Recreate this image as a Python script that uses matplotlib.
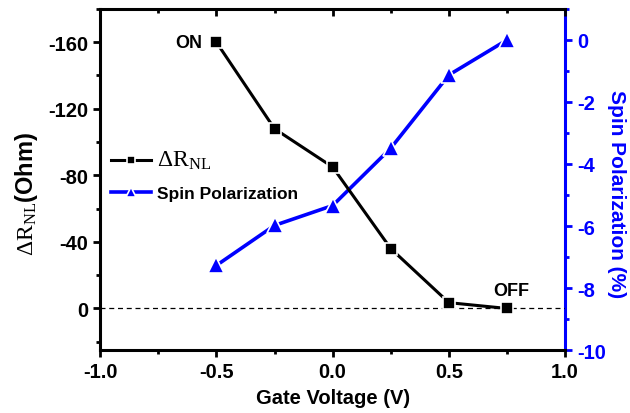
import matplotlib
matplotlib.use('Agg')
import matplotlib.pyplot as plt
from matplotlib.ticker import MultipleLocator

# data
gate_voltage = [-0.5, -0.25, 0.0, 0.25, 0.5, 0.75]
delta_r_nl = [-160, -108, -85, -36, -3.5, 0]
spin_pol = [-7.27, -5.98, -5.34, -3.49, -1.13, 0.0]

plt.rcParams['font.family'] = 'Liberation Sans'
plt.rcParams['font.weight'] = 'bold'
plt.rcParams['mathtext.fontset'] = 'custom'
plt.rcParams['mathtext.rm'] = 'Liberation Serif:weight=normal'
plt.rcParams['mathtext.it'] = 'Liberation Serif:italic:weight=normal'
plt.rcParams['mathtext.bf'] = 'Liberation Sans:bold'
plt.rcParams['mathtext.default'] = 'rm'

blue = '#0000ff'

fig = plt.figure(figsize=(6.3, 4.14), dpi=100)
ax = fig.add_axes([0.159, 0.152, 0.738, 0.824])
ax2 = ax.twinx()

# left axis: delta R_NL (inverted)
l1, = ax.plot(gate_voltage, delta_r_nl, color='black', lw=2.2, marker='s',
              markersize=9, markeredgecolor='white', markeredgewidth=1.2,
              markerfacecolor='black', zorder=3)
ax.axhline(0, color='black', lw=0.9, ls=(0, (4, 3)), zorder=1)
ax.set_xlim(-1.0, 1.0)
ax.set_ylim(25, -180)

# right axis: spin polarization
l2, = ax2.plot(gate_voltage, spin_pol, color=blue, lw=2.6, marker='^',
               markersize=11, markeredgecolor='white', markeredgewidth=1.2,
               markerfacecolor=blue, zorder=3)
ax2.set_ylim(-10, 1)

# ticks
ax.xaxis.set_minor_locator(MultipleLocator(0.25))
ax.set_xticks([-1.0, -0.5, 0.0, 0.5, 1.0])
ax.set_xticklabels(['-1.0', '-0.5', '0.0', '0.5', '1.0'])
ax.yaxis.set_minor_locator(MultipleLocator(20))
ax.set_yticks([-160, -120, -80, -40, 0])
ax.set_yticklabels(['-160', '-120', '-80', '-40', '0'])
ax2.yaxis.set_minor_locator(MultipleLocator(1))
ax2.set_yticks([0, -2, -4, -6, -8, -10])
ax2.set_yticklabels(['0', '-2', '-4', '-6', '-8', '-10'])

ax.tick_params(axis='both', which='major', direction='out', length=5, width=2,
               labelsize=14.5)
ax.tick_params(axis='both', which='minor', direction='out', length=3, width=2)
ax.tick_params(axis='x', which='both', top=True, labeltop=False)
# top ticks point inward
for t in ax.xaxis.get_major_ticks() + ax.xaxis.get_minor_ticks():
    t.tick2line.set_marker(3)
ax2.tick_params(axis='y', which='major', direction='out', length=5, width=2,
                colors=blue, labelsize=14.5)
ax2.tick_params(axis='y', which='minor', direction='out', length=3, width=2,
                colors=blue)

for side in ['left', 'bottom', 'top']:
    ax.spines[side].set_linewidth(2.2)
ax.spines['right'].set_visible(False)
for side in ['left', 'bottom', 'top']:
    ax2.spines[side].set_visible(False)
ax2.spines['right'].set_linewidth(2.2)
ax2.spines['right'].set_color(blue)

# labels
ax.set_xlabel('Gate Voltage (V)', fontsize=14.5, fontweight='bold', labelpad=5)
ax.set_ylabel(r'$\Delta \mathrm{R}_{\mathrm{NL}}\mathbf{(Ohm)}$', fontsize=17,
              fontweight='normal')
ax.yaxis.set_label_coords(-0.13, 0.46)
ax2.set_ylabel('Spin Polarization (%)', fontsize=15, fontweight='bold',
               color=blue, rotation=270, labelpad=18)
ax2.yaxis.set_label_coords(1.132, 0.46)

ax.text(-0.62, -160, 'ON', fontsize=13, fontweight='bold', ha='center',
        va='center')
ax.text(0.77, -10.5, 'OFF', fontsize=13, fontweight='bold', ha='center',
        va='center')

leg = ax.legend([l1, l2], [r'$\Delta \mathrm{R}_{\mathrm{NL}}$', 'Spin Polarization'],
                loc='upper left', bbox_to_anchor=(0.0, 0.62), frameon=False,
                fontsize=12.5, handlelength=2.3, handletextpad=0.4,
                labelspacing=0.85, borderaxespad=0.2, markerscale=0.7)
leg.texts[0].set_fontsize(17)
leg.texts[0].set_fontweight('normal')
ax.set_zorder(ax2.get_zorder() + 1)
ax.patch.set_visible(False)

fig.savefig('out.png', dpi=100)
